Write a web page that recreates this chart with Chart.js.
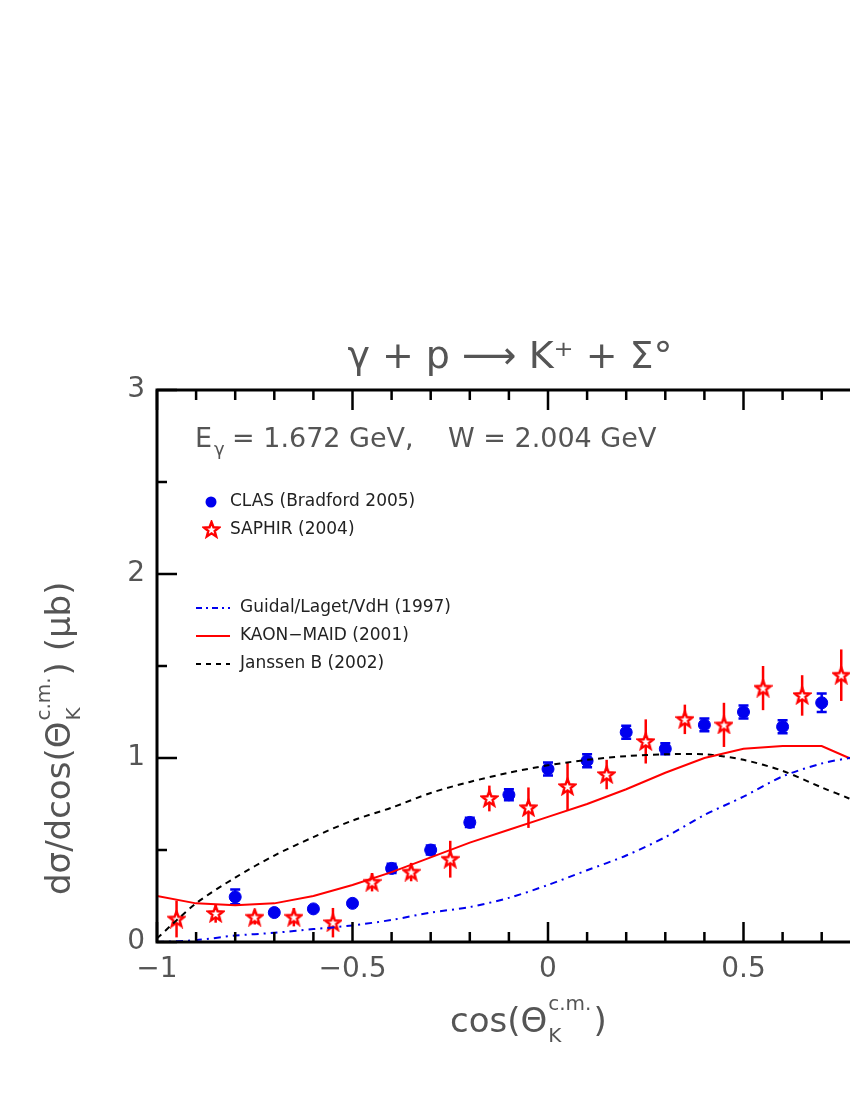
<!DOCTYPE html>
<html><head><meta charset="utf-8">
<script src="https://cdn.jsdelivr.net/npm/chart.js@4"></script>
<style>html,body{margin:0;padding:0;overflow:hidden;background:#fff;width:850px;height:1100px}
#wrap{position:absolute;left:0;top:0;width:1000px;height:1100px}</style>
</head><body><div id="wrap"><canvas id="c" width="1000" height="1100"></canvas></div>
<script>
const clasX = [-0.8,-0.7,-0.6,-0.5,-0.4,-0.3,-0.2,-0.1,0.0,0.1,0.2,0.3,0.4,0.5,0.6,0.7];
const clasY = [0.245,0.16,0.18,0.21,0.40,0.50,0.65,0.80,0.94,0.985,1.14,1.05,1.18,1.25,1.17,1.30];
const clasErr = [0.04,0.01,0.01,0.01,0.025,0.025,0.025,0.03,0.035,0.035,0.035,0.03,0.035,0.035,0.035,0.05];
const saphX = [-0.95,-0.85,-0.75,-0.65,-0.55,-0.45,-0.35,-0.25,-0.15,-0.05,0.05,0.15,0.25,0.35,0.45,0.55,0.65,0.75];
const saphY = [0.125,0.155,0.135,0.135,0.105,0.325,0.38,0.45,0.78,0.73,0.845,0.91,1.09,1.21,1.18,1.38,1.34,1.45];
const saphErr = [0.1,0.05,0.04,0.05,0.08,0.05,0.05,0.1,0.07,0.11,0.13,0.08,0.12,0.08,0.12,0.12,0.11,0.14];
const curveX = [-1,-0.9,-0.8,-0.7,-0.6,-0.5,-0.4,-0.3,-0.2,-0.1,0,0.1,0.2,0.3,0.4,0.5,0.6,0.7,0.77,0.8,0.9,1.0];
const guidalY = [0.0,0.01,0.035,0.05,0.07,0.09,0.12,0.16,0.19,0.24,0.31,0.39,0.47,0.57,0.69,0.79,0.90,0.97,1.0,1.01,1.03,1.05];
const maidY = [0.25,0.21,0.20,0.21,0.25,0.31,0.38,0.46,0.54,0.61,0.68,0.75,0.83,0.92,1.0,1.05,1.065,1.065,1.0,0.98,0.92,0.85];
const janssenY = [0.02,0.21,0.35,0.47,0.57,0.66,0.73,0.81,0.87,0.92,0.96,0.99,1.01,1.02,1.02,0.99,0.93,0.84,0.78,0.75,0.65,0.55];
const xTicks = [-1,-0.5,0,0.5,1];
const yTicks = [0,1,2,3];

function pts(xs,ys){return xs.map((x,i)=>({x:x,y:ys[i]}));}
function starImg(size,color){
  const c=document.createElement('canvas');c.width=size;c.height=size;
  const g=c.getContext('2d');const r=size/2-1.5,ri=r*0.42,cx=size/2,cy=size/2+0.5;
  g.beginPath();
  for(let i=0;i<10;i++){const a=-Math.PI/2+i*Math.PI/5;const rr=i%2?ri:r;
    g.lineTo(cx+rr*Math.cos(a),cy+rr*Math.sin(a));}
  g.closePath();g.fillStyle='#fff';g.fill();g.lineWidth=2.4;g.strokeStyle=color;g.stroke();return c;
}
const star=starImg(19,'#ff0000');
const red='#ff0000', blue='#0000ee';
const grey='#555';

const deco={id:'deco',
 beforeDatasetsDraw(ch){
  const g=ch.ctx,xs=ch.scales.x,ys=ch.scales.y;
  g.save();
  g.lineWidth=2.5;
  g.strokeStyle=red;
  saphX.forEach((x,i)=>{const px=xs.getPixelForValue(x);
    g.beginPath();g.moveTo(px,ys.getPixelForValue(saphY[i]-saphErr[i]));g.lineTo(px,ys.getPixelForValue(saphY[i]+saphErr[i]));g.stroke();});
  g.strokeStyle=blue;
  clasX.forEach((x,i)=>{const px=xs.getPixelForValue(x);
    const y1=ys.getPixelForValue(clasY[i]-clasErr[i]),y2=ys.getPixelForValue(clasY[i]+clasErr[i]);
    g.beginPath();g.moveTo(px,y1);g.lineTo(px,y2);g.moveTo(px-5,y1);g.lineTo(px+5,y1);g.moveTo(px-5,y2);g.lineTo(px+5,y2);g.stroke();});
  g.restore();
 },
 afterDraw(ch){
  const g=ch.ctx,xs=ch.scales.x,ys=ch.scales.y,a=ch.chartArea;
  g.save();
  g.strokeStyle='#000';g.lineWidth=3;
  g.strokeRect(a.left,a.top,a.right-a.left,a.bottom-a.top);
  g.lineWidth=2.5;
  for(let k=0;k<=20;k++){const v=-1+k*0.1;const px=xs.getPixelForValue(v);
    const L=(k%5===0)?20:10;
    g.beginPath();g.moveTo(px,a.bottom);g.lineTo(px,a.bottom-L);g.moveTo(px,a.top);g.lineTo(px,a.top+L);g.stroke();}
  for(let k=0;k<=6;k++){const v=k*0.5;const py=ys.getPixelForValue(v);
    const L=(k%2===0)?20:10;
    g.beginPath();g.moveTo(a.left,py);g.lineTo(a.left+L,py);g.moveTo(a.right,py);g.lineTo(a.right-L,py);g.stroke();}
  g.fillStyle=grey;
  g.font='28px "DejaVu Sans"';g.textAlign='center';g.textBaseline='top';
  xTicks.forEach(v=>g.fillText(String(v).replace('-','−'),xs.getPixelForValue(v),a.bottom+14));
  g.textAlign='right';g.textBaseline='middle';
  yTicks.forEach(v=>g.fillText(String(v),a.left-12,ys.getPixelForValue(v)));
  g.textAlign='center';g.textBaseline='alphabetic';
  g.font='38px "DejaVu Sans"';
  g.fillText('γ + p ⟶ K⁺ + Σ°',510,368);
  g.textAlign='left';g.font='27px "DejaVu Sans"';
  g.fillText('E',195,447);
  g.font='18px "DejaVu Sans"';g.fillText('γ',214,455);
  g.font='27px "DejaVu Sans"';g.fillText('= 1.672 GeV,    W = 2.004 GeV',232,447);
  g.textAlign='left';g.font='34px "DejaVu Sans"';
  g.fillText('cos(Θ',450,1032);
  let w=g.measureText('cos(Θ').width;
  g.font='20px "DejaVu Sans"';g.fillText('K',450+w+1,1042);g.fillText('c.m.',450+w+1,1010);
  let w2=g.measureText('c.m.').width;
  g.font='34px "DejaVu Sans"';g.fillText(')',450+w+w2+3,1032);
  g.save();g.translate(70,670);g.rotate(-Math.PI/2);
  g.textAlign='left';g.font='34px "DejaVu Sans"';
  const s1='dσ/dcos(Θ';let x0=-225;
  g.fillText(s1,x0,0);let w3=g.measureText(s1).width;
  g.font='20px "DejaVu Sans"';g.fillText('K',x0+w3+1,10);g.fillText('c.m.',x0+w3+1,-20);
  let w4=g.measureText('c.m.').width;
  g.font='34px "DejaVu Sans"';g.fillText(') (μb)',x0+w3+w4+3,0);
  g.restore();
  g.font='17px "DejaVu Sans"';g.textAlign='left';g.textBaseline='middle';
  g.beginPath();g.fillStyle=blue;g.arc(211,502,5.5,0,2*Math.PI);g.fill();
  g.drawImage(star,202,520);
  g.fillStyle='#222';
  g.fillText('CLAS (Bradford 2005)',230,502);
  g.fillText('SAPHIR (2004)',230,530);
  const leg=[[608,blue,[6,4,2,4],'Guidal/Laget/VdH (1997)'],[636,red,[],'KAON−MAID (2001)'],[664,'#000',[5,5],'Janssen B (2002)']];
  leg.forEach(l=>{g.strokeStyle=l[1];g.lineWidth=2;g.setLineDash(l[2]);g.beginPath();g.moveTo(196,l[0]);g.lineTo(230,l[0]);g.stroke();
    g.setLineDash([]);g.fillStyle='#222';g.fillText(l[3],240,l[0]);});
  g.restore();
 }};

new Chart(document.getElementById('c'),{
 type:'scatter',
 data:{datasets:[
  {label:'Guidal',data:pts(curveX,guidalY),showLine:true,borderColor:blue,borderWidth:2,borderDash:[7,5,2,5],pointRadius:0,fill:false,tension:0.3},
  {label:'MAID',data:pts(curveX,maidY),showLine:true,borderColor:red,borderWidth:2,pointRadius:0,fill:false,tension:0},
  {label:'Janssen',data:pts(curveX,janssenY),showLine:true,borderColor:'#000',borderWidth:2,borderDash:[6,5],pointRadius:0,fill:false,tension:0.3},
  {label:'CLAS',data:pts(clasX,clasY),pointRadius:6,pointBackgroundColor:blue,pointBorderColor:blue,showLine:false},
  {label:'SAPHIR',data:pts(saphX,saphY),pointStyle:star,showLine:false}
 ]},
 options:{responsive:false,animation:false,devicePixelRatio:1,
  layout:{padding:{left:157,top:390,right:61,bottom:158}},
  plugins:{legend:{display:false},tooltip:{enabled:false}},
  scales:{x:{type:'linear',min:-1,max:1,display:false},y:{type:'linear',min:0,max:3,display:false}}},
 plugins:[deco]
});
</script></body></html>
